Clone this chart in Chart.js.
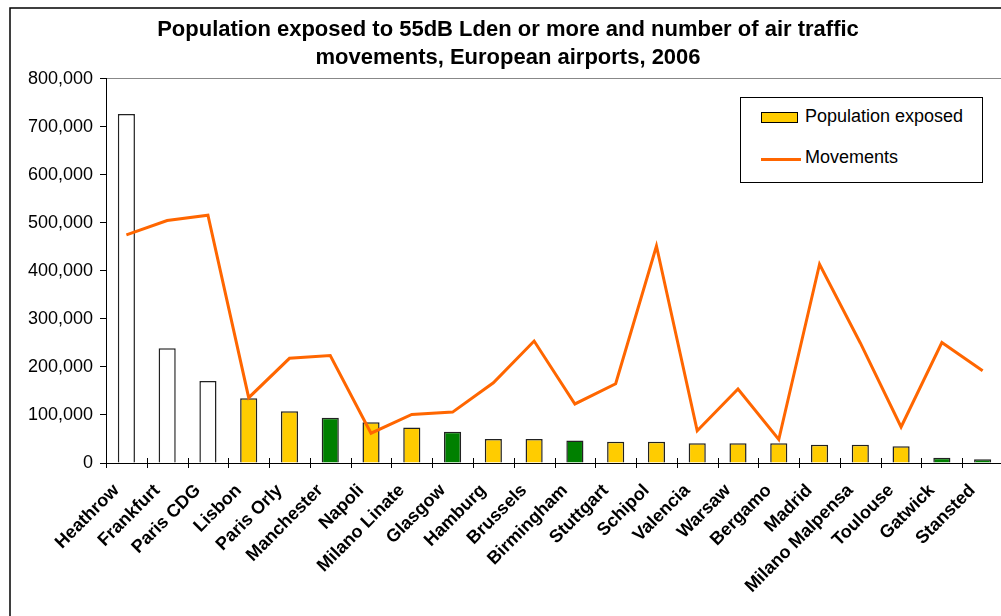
<!DOCTYPE html>
<html><head><meta charset="utf-8">
<script src="https://cdn.jsdelivr.net/npm/chart.js@4/dist/chart.umd.min.js"></script>
<style>
html,body{margin:0;padding:0;overflow:hidden;background:#fff;width:1001px;height:616px}
#wrap{position:absolute;left:0;top:0;width:1010px;height:616px}
#legend{position:absolute;left:740px;top:97px;width:241px;height:84px;border:1px solid #000;background:#fff;font-family:"Liberation Sans",Arial,sans-serif;font-size:18px;color:#000}
#legend .sw{position:absolute;left:20px;top:14px;width:35px;height:9px;background:#FFCC00;border:1.5px solid #000}
#legend .ln{position:absolute;left:20px;top:60px;width:40px;height:3px;background:#FF6600}
#legend .t1{position:absolute;left:64px;top:8px;white-space:nowrap}
#legend .t2{position:absolute;left:64px;top:49px;white-space:nowrap}
</style></head>
<body>
<div id="wrap"><canvas id="c" width="1010" height="616"></canvas>
<div id="legend"><div class="sw"></div><div class="t1">Population exposed</div><div class="ln"></div><div class="t2">Movements</div></div>
</div>
<script>
const titleLines = ["Population exposed to 55dB Lden or more and number of air traffic", "movements, European airports, 2006"];
const categories = ["Heathrow","Frankfurt","Paris CDG","Lisbon","Paris Orly","Manchester","Napoli","Milano Linate","Glasgow","Hamburg","Brussels","Birmingham","Stuttgart","Schipol","Valencia","Warsaw","Bergamo","Madrid","Milano Malpensa","Toulouse","Gatwick","Stansted"];
const population = [727000,239000,171000,135000,108000,94000,85000,74000,65000,50000,50000,47000,44000,44000,41000,41000,41000,38000,38000,35000,11000,8000];
const movements = [475000,505000,516000,136000,218000,224000,62000,101000,106000,167000,254000,123000,165000,452000,67000,154000,49000,414000,250000,75000,251000,192000];
const barGroup = ["white","white","white","yellow","yellow","green","yellow","yellow","green","yellow","yellow","green","yellow","yellow","yellow","yellow","yellow","yellow","yellow","yellow","green","green"];
const groupColors = {white:"#FFFFFF", yellow:"#FFCC00", green:"#008000"};
const yTicks = [0,100000,200000,300000,400000,500000,600000,700000,800000];

const FONT = '"Liberation Sans", Arial, sans-serif';

const borderPlugin = {
  id:'outerBorder',
  afterDraw(chart){
    const ctx = chart.ctx;
    ctx.save();
    ctx.strokeStyle = '#000';
    ctx.lineWidth = 1.5;
    ctx.beginPath();
    ctx.moveTo(10, 616);
    ctx.lineTo(10, 8);
    ctx.lineTo(1010, 8);
    ctx.stroke();
    // x tick marks crossing the axis
    const xs = chart.scales.x, ys = chart.scales.y;
    const y0 = ys.getPixelForValue(0);
    ctx.strokeStyle = '#000'; ctx.lineWidth = 1;
    for (let i = 0; i <= categories.length; i++) {
      const px = Math.round(xs.getPixelForValue(i - 0.5)) + 0.5;
      ctx.beginPath(); ctx.moveTo(px, y0 - 5); ctx.lineTo(px, y0 + 5); ctx.stroke();
    }
    ctx.restore();
  }
};

new Chart(document.getElementById('c'), {
  data: {
    labels: categories,
    datasets: [
      {type:'line', label:'Movements', data: movements, borderColor:'#FF6600', borderWidth:3, pointRadius:0, tension:0, fill:false, order:0},
      {type:'bar', label:'Population exposed', data: population,
       backgroundColor: barGroup.map(g => groupColors[g]), borderColor:'#222', borderWidth:1.5,
       categoryPercentage:1, barPercentage:0.42, order:1}
    ]
  },
  options: {
    responsive:false, animation:false, devicePixelRatio:1,
    layout:{padding:{left:10, top:10, right:4, bottom:0}},
    plugins:{
      legend:{display:false}, tooltip:{enabled:false},
      title:{display:true, text:titleLines, color:'#000', font:{family:FONT, size:22, weight:'bold', lineHeight:1.27}, padding:{top:6, bottom:7}}
    },
    scales:{
      x:{
        offset:true,
        grid:{display:true, drawOnChartArea:false, drawTicks:true, tickLength:5, tickColor:'rgba(0,0,0,0)', offset:true},
        border:{display:true, color:'#000', width:1},
        ticks:{color:'#000', font:{family:FONT, size:18, weight:'bold'}, minRotation:45, maxRotation:45, autoSkip:false, padding:12, labelOffset:-10},
        afterFit(s){ s.height = 153; }
      },
      y:{
        min:0, max:800000,
        afterBuildTicks(s){ s.ticks = yTicks.map(v => ({value:v})); },
        grid:{display:true, drawOnChartArea:true, drawTicks:true, tickLength:6, tickColor:'#000',
              color: c => (c.tick && c.tick.value === 800000) ? '#888' : 'rgba(0,0,0,0)'},
        border:{display:true, color:'#000', width:1},
        ticks:{color:'#000', font:{family:FONT, size:18}, padding:7, callback: v => v.toLocaleString('en-US')},
        afterFit(s){ s.width = 96; }
      }
    }
  },
  plugins:[borderPlugin]
});
</script>
</body></html>
